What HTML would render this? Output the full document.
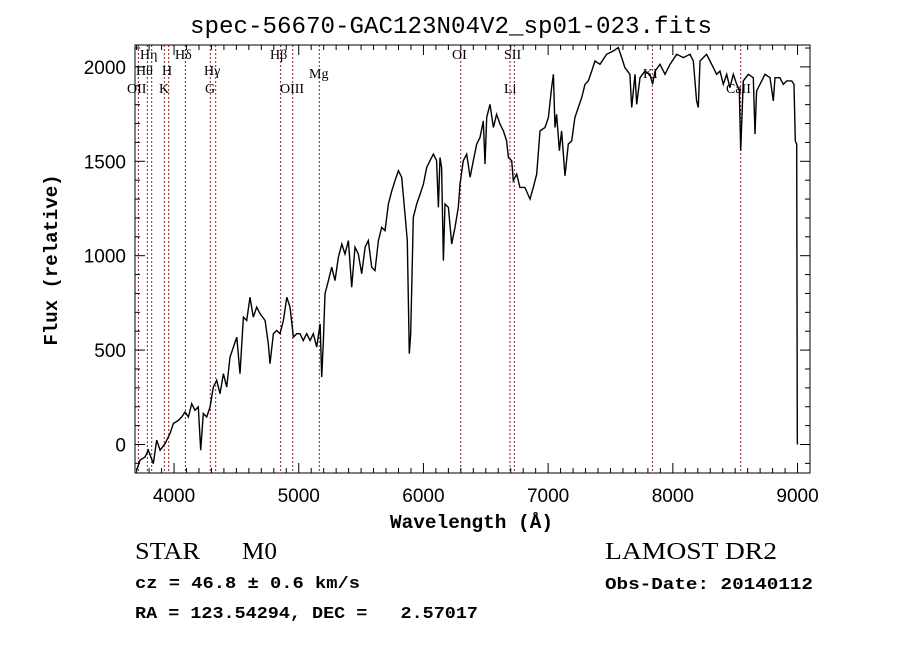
<!DOCTYPE html>
<html><head><meta charset="utf-8"><style>
body{margin:0;background:#fff;}
svg{display:block;}
</style></head><body>
<svg id="chart" width="900" height="649" xmlns="http://www.w3.org/2000/svg">
<rect width="900" height="649" fill="#fff"/>
<text x="190" y="33" textLength="522" lengthAdjust="spacingAndGlyphs" font-family="Liberation Mono, monospace" font-size="24">spec-56670-GAC123N04V2_sp01-023.fits</text>
<g id="lines"></g>
<g id="spec"></g>
<g id="axes"></g>
<text x="390" y="528" textLength="163" lengthAdjust="spacingAndGlyphs" font-family="Liberation Mono, monospace" font-weight="bold" font-size="19">Wavelength (Å)</text>
<text transform="translate(57,260) rotate(-90)" text-anchor="middle" font-family="Liberation Mono, monospace" font-weight="bold" font-size="19">Flux (relative)</text>
<text x="135" y="559" textLength="65" lengthAdjust="spacingAndGlyphs" font-family="Liberation Serif, serif" font-size="24">STAR</text>
<text x="242" y="559" textLength="35" lengthAdjust="spacingAndGlyphs" font-family="Liberation Serif, serif" font-size="24">M0</text>
<text x="135" y="588" textLength="225" lengthAdjust="spacingAndGlyphs" font-family="Liberation Mono, monospace" font-weight="bold" font-size="17">cz = 46.8 ± 0.6 km/s</text>
<text x="135" y="618" textLength="343" lengthAdjust="spacingAndGlyphs" font-family="Liberation Mono, monospace" font-weight="bold" font-size="17" xml:space="preserve">RA = 123.54294, DEC =   2.57017</text>
<text x="605" y="559" textLength="172" lengthAdjust="spacingAndGlyphs" font-family="Liberation Serif, serif" font-size="24">LAMOST DR2</text>
<text x="605" y="589" textLength="208" lengthAdjust="spacingAndGlyphs" font-family="Liberation Mono, monospace" font-weight="bold" font-size="17">Obs-Date: 20140112</text>
</svg>
<script>
const wavelengths=[3701,3727,3767,3794,3834,3861,3888,3928,3968,3995,4035,4062,4088,4115,4142,4168,4195,4214,4235,4262,4289,4315,4342,4369,4396,4422,4449,4476,4503,4529,4556,4583,4609,4636,4663,4690,4730,4756,4770,4797,4823,4850,4877,4904,4930,4957,4984,5010,5037,5064,5091,5117,5144,5171,5184,5198,5211,5238,5264,5291,5318,5345,5371,5398,5425,5451,5478,5505,5532,5558,5585,5612,5639,5665,5692,5719,5746,5772,5799,5826,5852,5871,5887,5898,5919,5946,5973,6000,6026,6053,6080,6106,6120,6133,6146,6160,6173,6200,6227,6253,6280,6293,6320,6347,6374,6400,6427,6454,6480,6494,6507,6534,6561,6587,6614,6641,6667,6681,6708,6721,6748,6774,6814,6855,6881,6908,6935,6975,7002,7028,7042,7055,7068,7090,7108,7135,7162,7189,7215,7242,7269,7296,7322,7349,7376,7416,7469,7523,7563,7590,7616,7656,7670,7697,7710,7737,7777,7817,7838,7857,7897,7937,7977,8031,8084,8138,8164,8191,8204,8218,8244,8271,8298,8325,8351,8378,8405,8432,8458,8485,8512,8533,8544,8565,8605,8645,8659,8672,8699,8739,8779,8806,8819,8859,8886,8913,8953,8972,8982,8993,8998,9000];
const fluxes=[-136,-83,-66,-30,-101,23,-30,5,58,111,128,146,172,146,216,181,199,-30,164,146,199,304,340,269,375,304,463,516,569,375,675,657,780,675,727,692,657,534,428,587,604,587,657,780,727,569,587,587,551,587,551,587,516,639,357,551,798,868,939,868,992,1062,1009,1080,833,1045,1009,904,1045,1080,939,921,1080,1150,1133,1274,1344,1397,1450,1415,1221,1080,481,587,1203,1274,1326,1379,1467,1503,1538,1503,1256,1520,1467,974,1274,1256,1062,1150,1256,1379,1503,1538,1415,1503,1591,1626,1714,1485,1732,1802,1679,1749,1697,1661,1608,1520,1503,1397,1432,1362,1362,1300,1362,1432,1661,1679,1732,1890,1961,1679,1749,1556,1661,1423,1591,1608,1732,1785,1837,1908,1926,1978,2031,2014,2067,2084,2102,2049,1996,1961,1785,1961,1802,1943,1978,1961,1908,1978,2014,1961,2014,2067,2049,2067,2031,1820,1785,2031,2049,2067,2031,1996,1961,1978,1908,1961,1890,1961,1908,1873,1556,1926,1961,1943,1644,1873,1908,1961,1943,1820,1943,1943,1908,1926,1926,1908,1608,1591,23,0];
const lineWaves=[3714,3786,3821,3922,3957,4091,4291,4334,4855,4952,5165,6299,6694,6729,7836,8544];
const lineLabels=[["Hη",140,59],["Hθ",136,75],["H",162,75],["Hδ",175,59],["OII",127,93],["K",159,93],["Hγ",204,75],["G",205,93],["Hβ",270,59],["OIII",280,93],["Mg",309,78],["OI",452,59],["SII",504,59],["Li",504,93],["KI",643,78],["CaII",726,93]];
const xTicks=[4000,5000,6000,7000,8000,9000];
const yTicks=[0,500,1000,1500,2000];
const L=135,R=810,T=45,B=473, XMIN=3687, XMAX=9100, YMIN=-151, YMAX=2116;
const NS="http://www.w3.org/2000/svg";
function xs(w){return L+(w-XMIN)/(XMAX-XMIN)*(R-L);}
function ys(f){return B-(f-YMIN)/(YMAX-YMIN)*(B-T);}
function mk(tag,attrs,parent){const e=document.createElementNS(NS,tag);for(const k in attrs)e.setAttribute(k,attrs[k]);parent.appendChild(e);return e;}
const gl=document.getElementById('lines');
lineWaves.forEach(w=>{
  const l=mk('line',{x1:xs(w),x2:xs(w),y1:T,y2:B,stroke:'#8b2020','stroke-width':1,'stroke-dasharray':'2,2'},gl);
  
  
});
lineLabels.forEach(a=>{
  const t=mk('text',{x:a[1],y:a[2],'font-family':'Liberation Serif, serif','font-size':14},gl);
  t.textContent=a[0];
  
  
});
const gs=document.getElementById('spec');
let d='';
wavelengths.forEach((w,i)=>{d+=(i?'L':'M')+xs(w).toFixed(1)+','+ys(fluxes[i]).toFixed(1);});
const p=mk('path',{d:d,fill:'none',stroke:'#000','stroke-width':1.4},gs);


const ga=document.getElementById('axes');
const box=mk('rect',{x:L,y:T,width:R-L,height:B-T,fill:'none',stroke:'#000','stroke-width':1},ga);


for(let w=3700;w<=XMAX;w+=100){
  const len=(w%1000===0)?10:5;const x=xs(w);
  mk('line',{x1:x,x2:x,y1:B,y2:B-len,stroke:'#000'},ga);
  mk('line',{x1:x,x2:x,y1:T,y2:T+len,stroke:'#000'},ga);
}
for(let f=-100;f<=YMAX;f+=100){
  const len=(f%500===0)?10:5;const y=ys(f);
  mk('line',{x1:L,x2:L+len,y1:y,y2:y,stroke:'#000'},ga);
  mk('line',{x1:R,x2:R-len,y1:y,y2:y,stroke:'#000'},ga);
}
xTicks.forEach(w=>{
  const t=mk('text',{x:xs(w),y:502,'text-anchor':'middle','font-family':'Liberation Sans, sans-serif','font-size':19},ga);
  t.textContent=w;
  
  
});
yTicks.forEach(f=>{
  const t=mk('text',{x:126,y:ys(f)+7,'text-anchor':'end','font-family':'Liberation Sans, sans-serif','font-size':19},ga);
  t.textContent=f;
  
  
});
</script>
</body></html>
